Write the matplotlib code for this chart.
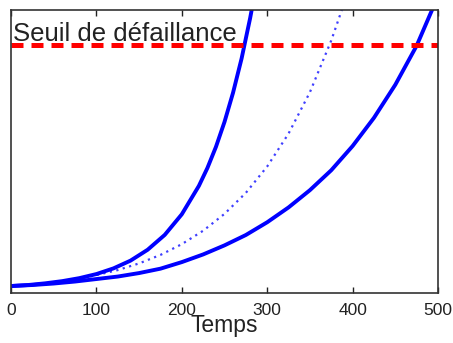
import matplotlib
matplotlib.use("Agg")
import matplotlib.pyplot as plt

# Degradation paths over time (arbitrary degradation units)
t_fast = [0, 20, 40, 60, 80, 100, 120, 140, 160, 180, 200, 220, 230, 240,
          250, 260, 270, 280, 285]
y_fast = [7, 8, 9.7, 11.9, 14.9, 19, 24.7, 32.5, 43.4, 58.3, 79, 107.5,
          125.5, 146.7, 171.7, 201, 235.3, 275.8, 298.6]

t_mean = [0, 25, 50, 75, 100, 125, 150, 175, 200, 225, 250, 275, 300, 325,
          350, 375, 390]
y_mean = [7, 8, 10, 13.5, 18, 23, 29.7, 38.2, 49, 62.5, 79.4, 100.5, 127,
          160, 201.5, 253.4, 290.6]

t_slow = [0, 25, 50, 75, 100, 125, 150, 175, 200, 225, 250, 275, 300, 325,
          350, 375, 400, 425, 450, 475, 495]
y_slow = [7, 8, 9.5, 11.5, 14, 16.5, 20, 24.4, 31, 38.7, 47.8, 58.2, 71,
          85.9, 103.2, 123.2, 147.5, 175.8, 209, 248.2, 288]

threshold = 249
threshold_label = "Seuil de défaillance"
x_ticks = [0, 100, 200, 300, 400, 500]
x_label = "Temps"

plt.rcParams["font.family"] = ["Liberation Sans", "DejaVu Sans"]

fig = plt.figure(figsize=(4.53, 3.43), dpi=100)
ax = fig.add_axes([0.0243, 0.1458, 0.9426, 0.825])

ax.plot(t_fast, y_fast, color="#0000ff", lw=2.8, solid_capstyle="butt")
ax.plot(t_slow, y_slow, color="#0000ff", lw=2.8, solid_capstyle="butt")
ax.plot(t_mean, y_mean, color="#0000ff", lw=1.6, alpha=0.75,
        linestyle=(0, (1, 2)))
ax.axhline(threshold, color="#ff0000", lw=3.6, linestyle=(0, (2.4, 1.6)))

ax.text(2, threshold + 4, threshold_label, fontsize=18.5, color="#222222",
        ha="left", va="baseline")

ax.set_xlim(0, 500)
ax.set_ylim(0, 284)
ax.set_xticks(x_ticks)
ax.set_yticks([])
ax.tick_params(axis="x", direction="in", length=4, width=1, top=True,
               labelsize=12.5, pad=7, colors="#222222")
ax.set_xlabel(x_label, fontsize=16.5, labelpad=-3, color="#222222")
for s in ax.spines.values():
    s.set_color("#333333")
    s.set_linewidth(1.2)

fig.savefig("out.png", dpi=100)
